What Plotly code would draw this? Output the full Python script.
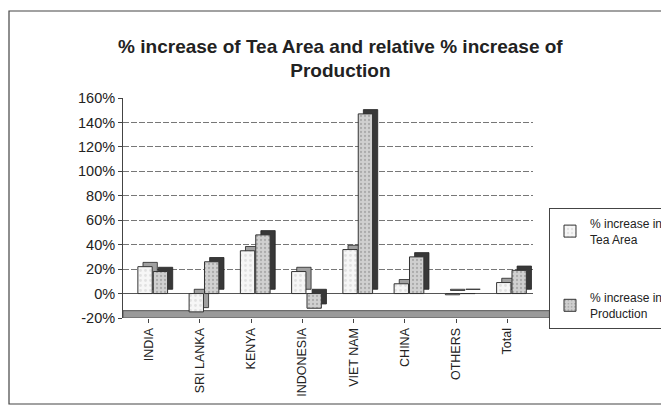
import plotly.graph_objects as go

# Data
countries = ["INDIA", "SRI LANKA", "KENYA", "INDONESIA", "VIET NAM", "CHINA", "OTHERS", "Total"]
area_increase = [22, -15, 35, 18, 36, 8, -1, 9]
production_increase = [18, 26, 48, -12, 147, 30, 0, 19]
y_ticks = [-20, 0, 20, 40, 60, 80, 100, 120, 140, 160]
y_tick_labels = [f"{v}%" for v in y_ticks]

FONT = "Arial, Liberation Sans, sans-serif"

# depth offsets for the pseudo-3D look
DX = 0.1
DY = 3.5

fig = go.Figure()

def add_series(values, name, offset, face, side, pattern_fg, pattern_size):
    # back/side face: same bar shifted right and up
    fig.add_trace(go.Bar(
        x=countries, y=values, base=[DY] * len(values),
        offset=offset + DX, width=0.28,
        marker=dict(color=side, line=dict(color="#222", width=0.8)),
        showlegend=False, hoverinfo="skip",
    ))
    # front face
    fig.add_trace(go.Bar(
        x=countries, y=values, name=name, legendgroup=name,
        offset=offset, width=0.28,
        marker=dict(color=face, line=dict(color="#333", width=1),
                    pattern=dict(shape=".", fgcolor=pattern_fg, size=pattern_size, solidity=0.25)),
    ))

add_series(area_increase, "% increase in<br>Tea Area", -0.21, "#f6f6f6", "#a0a0a0", "#cccccc", 5)
add_series(production_increase, "% increase in<br>Production", 0.09, "#d0d0d0", "#383838", "#858585", 4)

# chart floor at -20%
fig.add_shape(type="rect", xref="paper", yref="y", x0=0, x1=1.04, y0=-20, y1=-14,
              fillcolor="#9a9a9a", line=dict(color="#555", width=1), layer="below")

# outer chart frame
fig.add_shape(type="rect", xref="paper", yref="paper",
              x0=-114 / 410, x1=1.4, y0=-86 / 220, y1=1 + 87 / 220,
              line=dict(color="#444", width=1.2), fillcolor="rgba(0,0,0,0)")

fig.update_layout(
    width=661, height=406,
    margin=dict(l=123, r=128, t=98, b=88, autoexpand=False),
    paper_bgcolor="white", plot_bgcolor="white",
    barmode="overlay",
    font=dict(family=FONT, color="#222"),
    title=dict(
        text="<b>% increase of Tea Area and relative % increase of<br>Production</b>",
        x=0.515, xanchor="center", y=0.87, yanchor="top",
        font=dict(family=FONT, size=19, color="#222"),
    ),
    xaxis=dict(
        range=[-0.5, 7.5], tickangle=-90, showgrid=False,
        showline=False, ticks="outside", ticklen=4, tickcolor="#444",
        tickfont=dict(size=12.5, family=FONT, color="#222"),
    ),
    yaxis=dict(
        range=[-20, 160], tickvals=y_ticks, ticktext=y_tick_labels,
        showgrid=True, gridcolor="#777", gridwidth=1, griddash="6px,2px",
        zeroline=True, zerolinecolor="#555", zerolinewidth=1,
        showline=True, linecolor="#444", linewidth=1,
        ticks="outside", ticklen=4, tickcolor="#444",
        tickfont=dict(size=14.5, family=FONT, color="#222"),
    ),
    legend=dict(
        x=1.039, xanchor="left", y=0.50, yanchor="top",
        bgcolor="white", bordercolor="#444", borderwidth=1,
        font=dict(size=12, family=FONT, color="#222"),
        tracegroupgap=40, itemwidth=30,
    ),
)

fig.write_html("out.html")
